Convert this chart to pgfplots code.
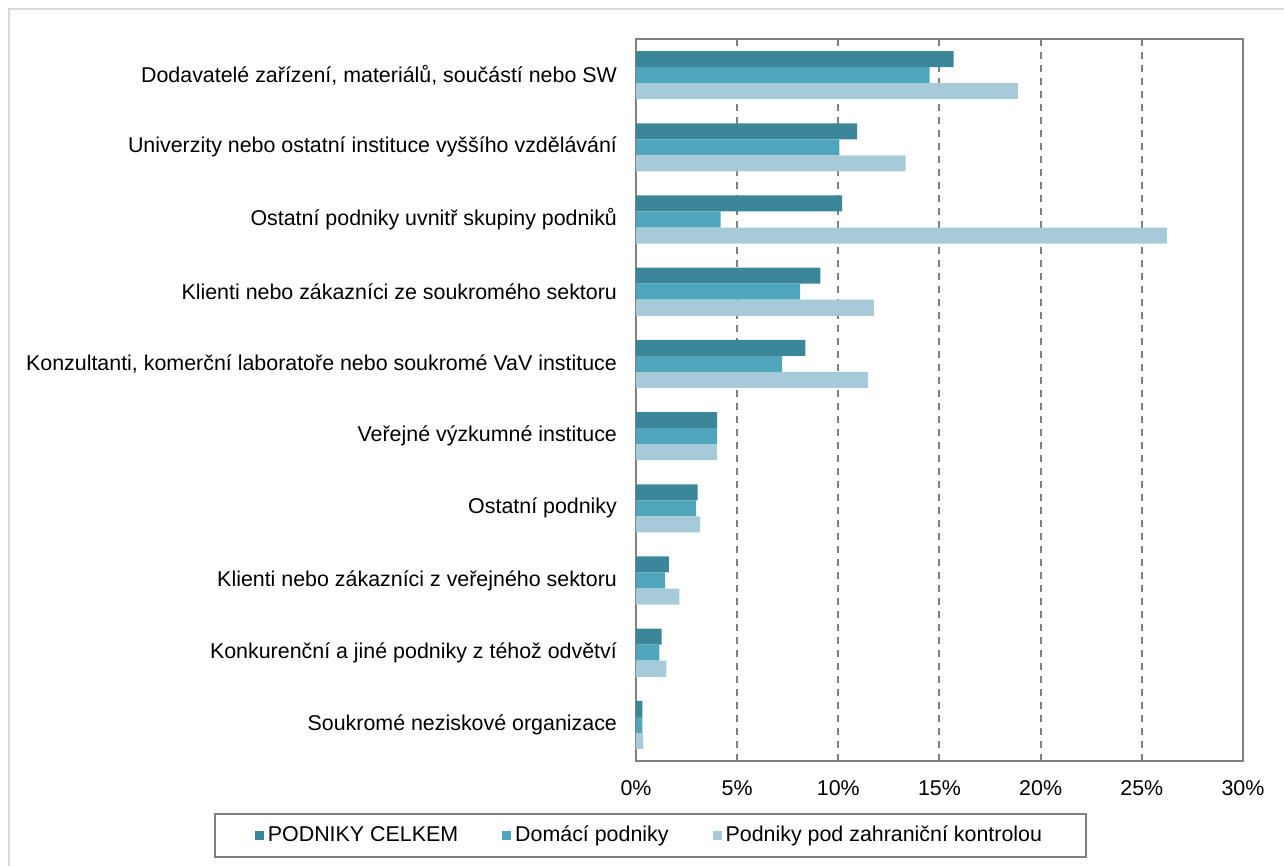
\documentclass[border=0pt]{standalone}
\usepackage{pgfplots}
\pgfplotsset{compat=1.18}
\usepackage{fontspec}
\setmainfont{Liberation Sans}
\definecolor{cDark}{RGB}{59,135,153}
\definecolor{cMid}{RGB}{79,166,188}
\definecolor{cLight}{RGB}{167,202,216}
\definecolor{axgray}{RGB}{128,128,128}
\definecolor{framegray}{RGB}{217,217,217}
\begin{document}
\begin{tikzpicture}
\useasboundingbox (-318pt,-52.5pt) rectangle (324pt,380.5pt);
\draw[framegray,line width=1pt] (-313.25pt,-52.5pt) -- (-313.25pt,375.75pt) -- (324pt,375.75pt);
\begin{axis}[
  at={(0,0)}, anchor=south west,
  scale only axis,
  width=303.5pt, height=361pt,
  xbar, bar width=0.222,
  xmin=0, xmax=30,
  ymin=-0.5, ymax=9.5,
  y dir=reverse,
  xtick={0,5,10,15,20,25,30},
  xticklabels={0\%,5\%,10\%,15\%,20\%,25\%,30\%},
  ytick={0,1,2,3,4,5,6,7,8,9},
  yticklabels={
    {Dodavatelé zařízení, materiálů, součástí nebo SW},
    {Univerzity nebo ostatní instituce vyššího vzdělávání},
    {Ostatní podniky uvnitř skupiny podniků},
    {Klienti nebo zákazníci ze soukromého sektoru\ },
    {Konzultanti, komerční laboratoře nebo soukromé VaV instituce},
    {Veřejné výzkumné instituce},
    {Ostatní podniky},
    {Klienti nebo zákazníci z veřejného sektoru},
    {Konkurenční a jiné podniky z téhož odvětví},
    {Soukromé neziskové organizace}},
  tick style={draw=none},
  major tick length=0pt,
  ticklabel style={font=\fontsize{10.7pt}{12.5pt}\selectfont},
  yticklabel style={anchor=east, xshift=-6pt},
  xticklabel style={anchor=center, yshift=-13.5pt},
  axis line style={axgray, line width=1pt},
  xmajorgrids,
  major grid style={axgray, line width=1pt, dash pattern=on 3.5pt off 3pt},
  legend columns=3,
  legend style={at={(0,0)}, anchor=center, xshift=7.25pt, yshift=-37.25pt,
    draw=axgray, line width=1pt,
    font=\fontsize{10.7pt}{12.5pt}\selectfont,
    inner xsep=20pt, inner ysep=4pt,
    /tikz/every even column/.append style={column sep=20pt}},
  legend image code/.code={\fill[#1,draw=none] (0pt,-2.25pt) rectangle (4.5pt,2.25pt);},
]
\addplot[fill=cDark, draw=none, bar shift=-0.222] coordinates {
  (15.7,0) (10.93,1) (10.19,2) (9.11,3) (8.37,4) (4.01,5) (3.04,6) (1.62,7) (1.27,8) (0.31,9)};
\addplot[fill=cMid, draw=none, bar shift=0] coordinates {
  (14.51,0) (10.05,1) (4.18,2) (8.11,3) (7.22,4) (4.01,5) (2.97,6) (1.44,7) (1.16,8) (0.31,9)};
\addplot[fill=cLight, draw=none, bar shift=0.222] coordinates {
  (18.87,0) (13.33,1) (26.24,2) (11.76,3) (11.46,4) (4.0,5) (3.17,6) (2.15,7) (1.5,8) (0.35,9)};
\legend{PODNIKY CELKEM, Domácí podniky, Podniky pod zahraniční kontrolou}
\end{axis}
\end{tikzpicture}
\end{document}
